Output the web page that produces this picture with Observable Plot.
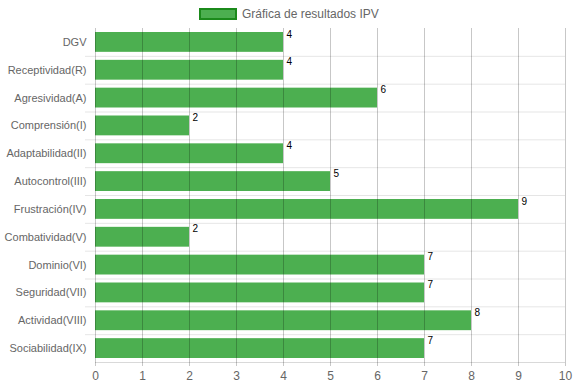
<!DOCTYPE html>
<html>
<head>
<meta charset="utf-8">
<script src="https://cdn.jsdelivr.net/npm/d3@7"></script>
<script src="https://cdn.jsdelivr.net/npm/@observablehq/plot@0.6"></script>
<style>
  html, body { margin: 0; padding: 0; background: #fff; }
  #wrap { position: relative; width: 574px; height: 386px; font-family: "Liberation Sans", Arial, sans-serif; }
  #legend { position: absolute; left: 199px; top: 7px; display: flex; align-items: center; font-size: 12px; color: #666; }
  #legend .box { width: 34px; height: 8px; background: #4caf50; border: 2px solid #1b8a1b; margin-right: 5px; }
</style>
</head>
<body>
<div id="wrap">
  <div id="legend"><div class="box"></div><span>Gráfica de resultados IPV</span></div>
  <div id="chart"></div>
</div>
<script>
const categories = ["DGV","Receptividad(R)","Agresividad(A)","Comprensión(I)","Adaptabilidad(II)","Autocontrol(III)","Frustración(IV)","Combatividad(V)","Dominio(VI)","Seguridad(VII)","Actividad(VIII)","Sociabilidad(IX)"];
const values = [4,4,6,2,4,5,9,2,7,7,8,7];
const xTicks = [0,1,2,3,4,5,6,7,8,9,10];

const data = categories.map((c, i) => ({name: c, i, value: values[i]}));
const boundaries = d3.range(1, categories.length);
const centers = categories.map((_, i) => i + 0.5);

const chart = Plot.plot({
  width: 574,
  height: 386,
  marginTop: 28,
  marginBottom: 24,
  marginLeft: 95,
  marginRight: 9,
  style: {fontFamily: "Liberation Sans, Arial, sans-serif", fontSize: "12px", color: "#666", background: "transparent"},
  x: {domain: [0, 10], label: null},
  y: {domain: [0, categories.length], reverse: true, label: null},
  marks: [
    Plot.rectX(data, {x1: 0, x2: "value", y1: "i", y2: d => d.i + 1, insetTop: 4, insetBottom: 4, fill: "#4caf50"}),
    Plot.ruleY(boundaries, {stroke: "#000", strokeOpacity: 0.1}),
    Plot.ruleY([categories.length], {stroke: "#000", strokeOpacity: 0.15}),
    Plot.axisY(boundaries, {tickSize: 10, tickFormat: () => "", stroke: "#000", strokeOpacity: 0.1, tickPadding: 0}),
    Plot.axisY(centers, {tickSize: 0, tickPadding: 9, fontSize: 11, tickFormat: d => categories[Math.floor(d)], fill: "#666"}),
    Plot.gridX(xTicks, {stroke: "#000", strokeOpacity: 0.22}),
    Plot.axisX(xTicks, {tickSize: 4, tickPadding: 5, stroke: "#000", strokeOpacity: 0.22, fill: "#666", tickFormat: d => String(d)}),
    Plot.text(data, {x: "value", y: "i", text: d => String(d.value), textAnchor: "start", lineAnchor: "top", dx: 3, dy: 2, fill: "#000", fontSize: 10})
  ]
});
document.getElementById("chart").appendChild(chart);
</script>
</body>
</html>
